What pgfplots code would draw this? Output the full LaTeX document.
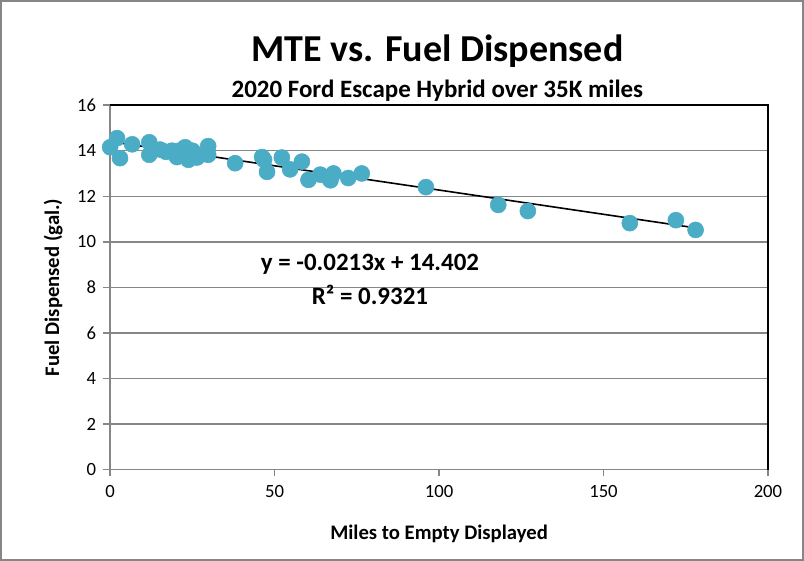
\documentclass[border=0pt]{standalone}
\usepackage{pgfplots}
\pgfplotsset{compat=1.18}
\usepackage{fontspec}
\setmainfont{Carlito}
\definecolor{pt}{RGB}{75,172,198}
\definecolor{gr}{RGB}{134,134,134}
\begin{document}
\begin{tikzpicture}[x=0.75pt,y=0.75pt]
\draw[gr,line width=1.5pt] (-109,-90) rectangle (692,468);
\begin{axis}[
  at={(0,0)}, anchor=south west,
  scale only axis, width=492.75pt, height=273pt,
  xmin=0, xmax=200, ymin=0, ymax=16,
  xtick={0,50,...,200}, ytick={0,2,...,16},
  axis line style={gr, line width=1.1pt},
  separate axis lines,
  axis x line*=bottom, axis y line*=left,
  tick style={gr, line width=1.1pt},
  tick align=outside, major tick length=5pt,
  ymajorgrids, grid style={gr, line width=1.1pt},
  tick label style={font=\fontsize{14}{15}\selectfont},
  /pgf/number format/assume math mode=true,
  xticklabel style={yshift=-3pt},
  yticklabel style={xshift=-2pt},
  xlabel={\textbf{Miles to Empty Displayed}},
  ylabel={\textbf{Fuel Dispensed (gal.)}},
  label style={font=\fontsize{15.5}{17}\selectfont},
  xlabel style={yshift=-14pt},
  ylabel style={yshift=4pt},
  clip=false,
]
\addplot[only marks, mark=*, mark size=6pt, mark options={fill=pt, draw=pt}] coordinates {
(0,14.15) (2.1,14.55) (3,13.67) (6.7,14.28) (11.9,14.37) (11.9,13.82)
(15.2,14.05) (17,13.95) (18.8,14.0) (20.3,13.72) (21,14.0) (22,13.85)
(22.8,14.15) (23.8,13.6) (24.5,13.9) (25,14.0) (26.4,13.7) (27,13.8)
(29.8,14.2) (29.8,13.82) (38,13.45) (46.2,13.72) (46.8,13.6) (47.7,13.07)
(52.2,13.7) (54.7,13.18) (58.3,13.52) (60.3,12.72) (63.9,12.95) (66.5,12.8)
(67.9,13.0) (67,12.7) (72.4,12.8) (76.5,13.0) (96,12.4) (118,11.62)
(127,11.35) (158,10.82) (172,10.95) (178,10.52)
};
\addplot[black, line width=1.2pt] coordinates {(0,14.402) (178,10.6106)};
\draw[black, line width=1.5pt] (axis cs:0,16) -- (axis cs:200,16) -- (axis cs:200,0);
\node[font=\fontsize{18.7}{20}\selectfont\bfseries] at (axis cs:79,9.0) {y = -0.0213x + 14.402};
\node[font=\fontsize{18.7}{20}\selectfont\bfseries] at (axis cs:79,7.65) {R² = 0.9321};
\node[font=\fontsize{28.5}{32}\selectfont\bfseries] at (axis cs:99.5,18.35) {MTE vs. Fuel Dispensed};
\node[font=\fontsize{18.7}{20}\selectfont\bfseries] at (axis cs:99.5,16.65) {2020 Ford Escape Hybrid over 35K miles};
\end{axis}
\end{tikzpicture}
\end{document}
